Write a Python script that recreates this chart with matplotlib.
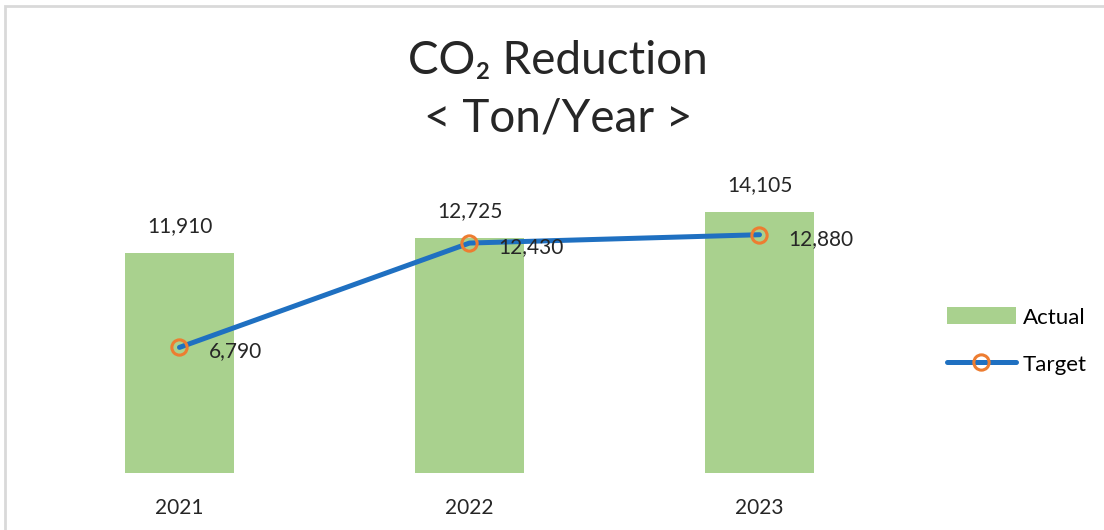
import matplotlib.pyplot as plt
from matplotlib.patches import Rectangle
import numpy as np

years = ['2021', '2022', '2023']
actual = [11910, 12725, 14105]
target = [6790, 12430, 12880]

bar_color = '#A9D18E'
line_color = '#1F70C1'
marker_color = '#ED7D31'

plt.rcParams['font.family'] = ['Lato', 'DejaVu Sans']

fig = plt.figure(figsize=(11.04, 5.3), dpi=100)
# light grey chart frame, cut by the right and bottom edges
fig.patches.append(Rectangle((5 / 1104, -0.05), 1.2, 1 - 6 / 530 + 0.05,
                             transform=fig.transFigure, fill=False,
                             edgecolor='#D9D9D9', linewidth=2))

ax = fig.add_axes([34.5 / 1104, (530 - 473) / 530, 870 / 1104, 296 / 530])
x = np.arange(len(years))
bars = ax.bar(x, actual, width=0.376, color=bar_color, label='Actual', zorder=1)
line, = ax.plot(x, target, color=line_color, linewidth=3.6, marker='o', markersize=11,
                markerfacecolor='none', markeredgecolor=marker_color, markeredgewidth=2.2,
                label='Target', zorder=3, solid_capstyle='round')

for xi, v in zip(x, actual):
    ax.annotate(f'{v:,}', (xi, v), xytext=(0, 12), textcoords='offset points',
                ha='center', va='bottom', fontsize=15, color='#262626', zorder=4)
for xi, v in zip(x, target):
    ax.annotate(f'{v:,}', (xi, v), xytext=(21, -3), textcoords='offset points',
                ha='left', va='center', fontsize=15, color='#262626', zorder=4)

ax.set_xlim(-0.5, 2.5)
ax.set_ylim(0, 16000)
ax.set_xticks(x)
ax.set_xticklabels(years, fontsize=15, color='#262626')
ax.tick_params(axis='x', length=0, pad=18)
ax.set_yticks([])
for s in ax.spines.values():
    s.set_visible(False)

fig.text(558 / 1104, 1 - 61 / 530, 'CO₂ Reduction', ha='center', va='center',
         fontsize=33, color='#262626')
fig.text(558 / 1104, 1 - 118 / 530, '< Ton/Year >', ha='center', va='center',
         fontsize=33, color='#262626')

ax.legend([bars, line], ['Actual', 'Target'], loc='center left',
          bbox_to_anchor=(938 / 1104, (530 - 341) / 530),
          bbox_transform=fig.transFigure, frameon=False, fontsize=16,
          handlelength=3.1, handleheight=0.8, labelspacing=1.2, handletextpad=0.3,
          borderaxespad=0)

fig.savefig('out.png', dpi=100)
